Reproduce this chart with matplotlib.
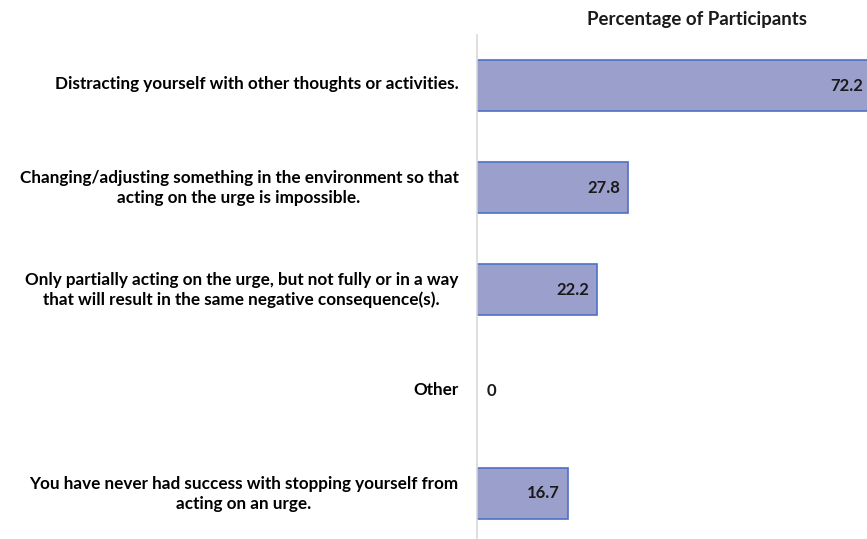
import matplotlib.pyplot as plt
from matplotlib.transforms import ScaledTranslation

categorias = [
    'Distracting yourself with other thoughts or activities.',
    'Changing/adjusting something in the environment so that\nacting on the urge is impossible.',
    'Only partially acting on the urge, but not fully or in a way\nthat will result in the same negative consequence(s).',
    'Other',
    'You have never had success with stopping yourself from\nacting on an urge.',
]
valores = [72.2, 27.8, 22.2, 0, 16.7]
rotulos = ['72.2', '27.8', '22.2', '0', '16.7']

plt.rcParams['font.family'] = ['Lato', 'DejaVu Sans']

fig = plt.figure(figsize=(8.67, 5.39), dpi=100)
ax = fig.add_axes([476.5 / 867, 0, 1 - 476.5 / 867, 1 - 35 / 539])

pos = list(range(len(categorias)))
larguras = [1.2 if v > 0 else 0 for v in valores]
ax.barh(pos, valores, height=0.5, color='#9b9fcc', edgecolor='#4f6fc6', linewidth=larguras)

ax.set_xlim(0, 71.65)
ax.set_ylim(4.45, -0.5)

for p, v, r in zip(pos, valores, rotulos):
    if v == 0:
        ax.text(1.9, p, r, ha='left', va='center', fontsize=12, fontweight='bold', color='#1a1a1a')
    else:
        x = v - 1.5 if v < 71.65 else 71.65 - 0.7
        ax.text(x, p, r, ha='right', va='center', fontsize=12, fontweight='bold', color='#1a1a1a')

ax.set_yticks(pos)
ax.set_yticklabels(categorias, fontsize=12.3, fontweight='bold', multialignment='center',
                   linespacing=1.3)
ax.tick_params(axis='y', length=0, pad=13)
# sobe um pouco os rótulos das categorias
desloc = ScaledTranslation(0, 3 / 100, fig.dpi_scale_trans)
for rot in ax.get_yticklabels():
    rot.set_transform(rot.get_transform() + desloc)
ax.set_xticks([])
for lado in ['top', 'right', 'bottom']:
    ax.spines[lado].set_visible(False)
ax.spines['left'].set_color('#d9d9d9')
ax.spines['left'].set_linewidth(1.2)

fig.text(697 / 867, 1 - 20 / 539, 'Percentage of Participants', ha='center', va='center',
         fontsize=13.4, fontweight='bold', color='#1a1a1a')

fig.savefig('out.png', dpi=100)
